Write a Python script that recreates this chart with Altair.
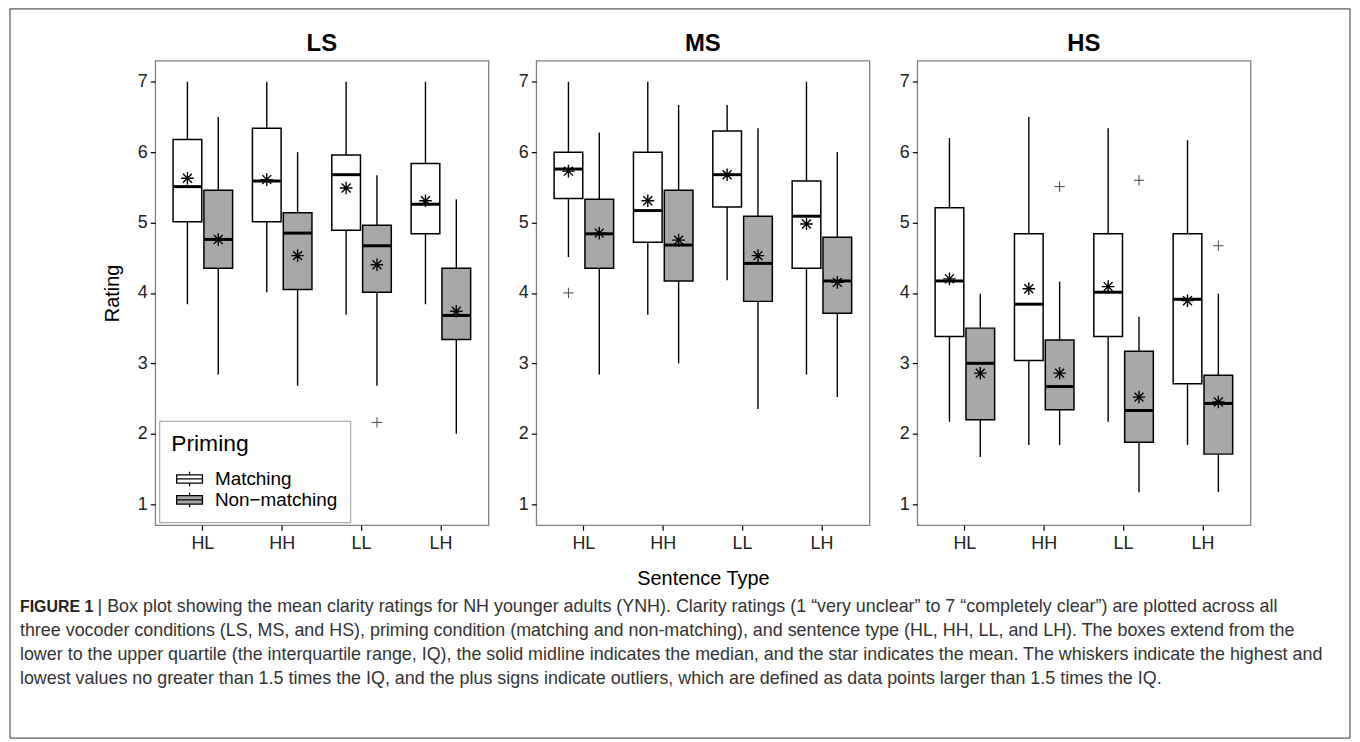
import altair as alt
import pandas as pd

panels = ["LS", "MS", "HS"]
types = ["HL", "HH", "LL", "LH"]
primings = ["Matching", "Non-matching"]

# order: panel -> sentence type -> priming (Matching, Non-matching)
lo = [3.84, 2.84, 4.01, 2.68, 3.69, 2.68, 3.84, 2.00,
      4.51, 2.84, 3.69, 3.00, 4.18, 2.35, 2.84, 2.52,
      2.17, 1.67, 1.84, 1.84, 2.17, 1.17, 1.84, 1.17]
q1 = [5.01, 4.35, 5.01, 4.05, 4.89, 4.01, 4.84, 3.34,
      5.34, 4.35, 4.72, 4.17, 5.22, 3.88, 4.35, 3.71,
      3.38, 2.20, 3.04, 2.34, 3.38, 1.88, 2.71, 1.71]
med = [5.51, 4.76, 5.59, 4.85, 5.68, 4.67, 5.26, 3.68,
       5.76, 4.84, 5.17, 4.68, 5.68, 4.42, 5.09, 4.17,
       4.17, 3.00, 3.84, 2.67, 4.01, 2.33, 3.91, 2.43]
q3 = [6.18, 5.46, 6.34, 5.14, 5.96, 4.96, 5.84, 4.35,
      6.00, 5.33, 6.00, 5.46, 6.30, 5.09, 5.59, 4.79,
      5.21, 3.50, 4.84, 3.33, 4.84, 3.17, 4.84, 2.83]
hi = [7.00, 6.50, 7.00, 6.00, 7.00, 5.67, 7.00, 5.33,
      7.00, 6.28, 7.00, 6.67, 6.67, 6.34, 7.00, 6.00,
      6.20, 3.99, 6.50, 4.16, 6.34, 3.66, 6.17, 3.99]
mean = [5.63, 4.76, 5.61, 4.53, 5.49, 4.40, 5.31, 3.74,
        5.73, 4.85, 5.31, 4.75, 5.68, 4.53, 4.98, 4.15,
        4.20, 2.86, 4.06, 2.86, 4.09, 2.52, 3.89, 2.45]

out_panel = ["LS", "MS", "HS", "HS", "HS"]
out_type = ["LL", "HL", "HH", "LL", "LH"]
out_priming = ["Non-matching", "Matching", "Non-matching", "Non-matching", "Non-matching"]
out_value = [2.16, 4.00, 5.51, 5.60, 4.67]

y_ticks = [1, 2, 3, 4, 5, 6, 7]

caption_bold = "FIGURE 1"
caption_first = "| Box plot showing the mean clarity ratings for NH younger adults (YNH). Clarity ratings (1 \u201cvery unclear\u201d to 7 \u201ccompletely clear\u201d) are plotted across all"
caption_rest = [
    "three vocoder conditions (LS, MS, and HS), priming condition (matching and non-matching), and sentence type (HL, HH, LL, and LH). The boxes extend from the",
    "lower to the upper quartile (the interquartile range, IQ), the solid midline indicates the median, and the star indicates the mean. The whiskers indicate the highest and",
    "lowest values no greater than 1.5 times the IQ, and the plus signs indicate outliers, which are defined as data points larger than 1.5 times the IQ.",
]

rows = []
i = 0
for p in panels:
    for t in types:
        for g in primings:
            rows.append(dict(panel=p, type=t, priming=g, lo=lo[i], q1=q1[i], med=med[i],
                             q3=q3[i], hi=hi[i], mean=mean[i]))
            i += 1
df = pd.DataFrame(rows)
odf = pd.DataFrame(dict(panel=out_panel, type=out_type, priming=out_priming, value=out_value))

STAR = "M-1,0L1,0M0,-1L0,1M-0.71,-0.71L0.71,0.71M-0.71,0.71L0.71,-0.71"
PLUS = "M-1,0L1,0M0,-1L0,1"
GLYPH = "M-1.85,-0.6L1.85,-0.6L1.85,0.6L-1.85,0.6Z M-1.85,0L1.85,0 M0,-0.6L0,-1.05 M0,0.6L0,1.05"

FONT = "Liberation Sans"
W, H = 335, 467
ys = alt.Scale(domain=[0.7, 7.3], nice=False, zero=False)

# page layout (relative to the LS plot area's top-left corner)
FX0, FX1, FY0, FY1 = -146, 1201, -52, 681
CAP_X, CAP_Y, CAP_LH = -136, 549, 24.3


def make_panel(p, first, middle):
    d = df[df.panel == p]
    o = odf[odf.panel == p]
    xaxis = alt.Axis(title="Sentence Type" if middle else None, labelAngle=0, domain=False, grid=False,
                     tickColor="black", tickSize=5, tickWidth=1.2, labelFontSize=18, labelColor="#222",
                     labelPadding=4, titleFontSize=20, titleColor="black", titlePadding=17)
    yaxis = alt.Axis(title="Rating" if first else None, values=y_ticks, domain=False, grid=False,
                     tickColor="black", tickSize=5, tickWidth=1.2, labelFontSize=18, labelColor="#222",
                     labelPadding=3, titleFontSize=20, titleColor="black", titlePadding=15)
    x = alt.X("type:N", sort=types, scale=alt.Scale(domain=types, paddingInner=0.25, paddingOuter=0.225),
              axis=xaxis)
    xo = alt.XOffset("priming:N", sort=primings, scale=alt.Scale(domain=primings, paddingInner=0.07))

    def Y(f):
        return alt.Y(f, scale=ys, axis=yaxis)

    legend = None
    if first:
        legend = alt.Legend(title="Priming", orient="none", legendX=4, legendY=362,
                            titleFontSize=23, titleFontWeight="normal", titleColor="black", titleFont=FONT,
                            labelFontSize=19, labelColor="black", labelFont=FONT,
                            labelExpr="replace(datum.label, '-', '\u2212')",
                            symbolType=GLYPH, symbolSize=196, symbolOffset=9, symbolStrokeColor="black",
                            symbolStrokeWidth=1.3, strokeColor="#999999", fillColor="white",
                            padding=12, rowPadding=0, labelOffset=16, titlePadding=14)

    whisk = alt.Chart(d).mark_rule(color="black", strokeWidth=1.4).encode(
        x=x, xOffset=xo, y=Y("lo:Q"), y2="hi:Q")
    box = alt.Chart(d).mark_bar(stroke="black", strokeWidth=1.5).encode(
        x=x, xOffset=xo, y=Y("q1:Q"), y2="q3:Q",
        fill=alt.Fill("priming:N", sort=primings,
                      scale=alt.Scale(domain=primings, range=["white", "#A8A8A8"]), legend=legend))
    medl = alt.Chart(d).mark_tick(color="black", thickness=3, size=28, opacity=1).encode(
        x=x, xOffset=xo, y=Y("med:Q"))
    meanp = alt.Chart(d).mark_point(shape=STAR, size=160, filled=False, color="black",
                                    strokeWidth=1.4, opacity=1).encode(x=x, xOffset=xo, y=Y("mean:Q"))
    outl = alt.Chart(o).mark_point(shape=PLUS, size=110, filled=False, color="#444",
                                   strokeWidth=1, opacity=1).encode(x=x, xOffset=xo, y=Y("value:Q"))
    title = alt.Chart(pd.DataFrame({"p": [p]})).mark_text(
        align="center", baseline="middle", font=FONT, fontSize=24, fontWeight="bold", color="black"
    ).encode(x=alt.value(W / 2), y=alt.value(-17), text="p:N")
    layers = [whisk, box, medl, meanp, outl, title]
    if first:
        one = pd.DataFrame({"t": [caption_bold], "u": [caption_first]})
        frame = alt.Chart(one).mark_rect(fill=None, stroke="#333", strokeWidth=1).encode(
            x=alt.value(FX0), x2=alt.value(FX1), y=alt.value(FY0), y2=alt.value(FY1))
        cap_b = alt.Chart(one).mark_text(align="left", baseline="middle", font=FONT, fontSize=16,
                                         fontWeight="bold", color="#222").encode(
            x=alt.value(CAP_X), y=alt.value(CAP_Y), text="t:N")
        cap_1 = alt.Chart(one).mark_text(align="left", baseline="middle", font=FONT, fontSize=18,
                                         color="#333").encode(
            x=alt.value(CAP_X + 78), y=alt.value(CAP_Y), text="u:N")
        cap_r = alt.Chart(one).mark_text(align="left", baseline="middle", font=FONT, fontSize=18,
                                         color="#333", lineHeight=CAP_LH).encode(
            x=alt.value(CAP_X), y=alt.value(CAP_Y + CAP_LH), text=alt.value(caption_rest))
        layers = [frame, cap_b, cap_1, cap_r] + layers
    return alt.layer(*layers).properties(width=W, height=H)


chart = alt.hconcat(
    make_panel("LS", True, False),
    make_panel("MS", False, True),
    make_panel("HS", False, False),
    spacing=48,
    bounds="flush",
).resolve_legend(fill="independent").properties(
    padding={"left": 0, "top": -3, "right": 0, "bottom": 0}
).configure_view(stroke="#808080", strokeWidth=1.3).configure_axis(
    labelFont=FONT, titleFont=FONT, titleFontWeight="normal"
)

chart.save("out.html", embed_options={"renderer": "svg", "actions": False})
